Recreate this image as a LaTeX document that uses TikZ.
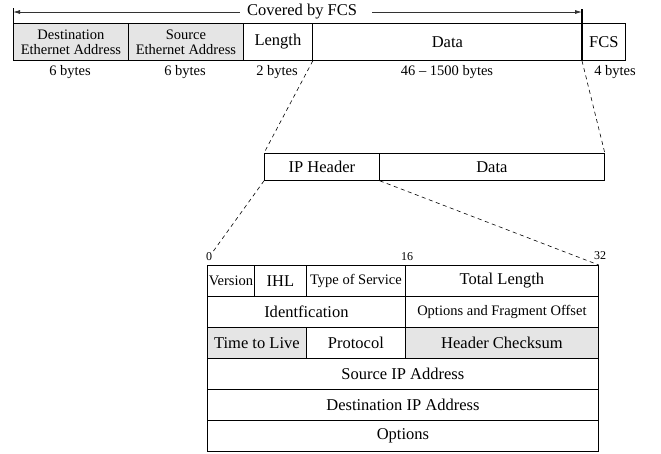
\documentclass[tikz,border=0pt]{standalone}
\usepackage{fontspec}
\setmainfont{Liberation Serif}
\usetikzlibrary{arrows.meta}

\tikzset{
  field/.style={draw, anchor=north west, inner sep=0pt, line width=0.8pt},
  frame/.style={field, minimum height=37pt},
  ipbox/.style={field, minimum height=27pt},
  hdrrow/.style={field, minimum height=31pt},
  shade/.style={fill=gray!20},
  bigtext/.style={font=\fontsize{16.5}{18}\selectfont},
  smalltext/.style={font=\fontsize{14.5}{15}\selectfont, align=center},
  bittext/.style={font=\fontsize{12}{13}\selectfont, inner sep=0pt},
  zoomline/.style={dashed, dash pattern=on 4pt off 3.5pt, line width=0.6pt}
}

\begin{document}
\begin{tikzpicture}[x=1pt, y=-1pt]
    \useasboundingbox (0,0) rectangle (661,453);

    \node [frame, shade, smalltext, minimum width=115pt] (dest) at (13,23) {Destination\\Ethernet Address};
    \node [frame, shade, smalltext, minimum width=115pt] (src) at (128,23) {Source\\Ethernet Address};
    \node [frame, bigtext, minimum width=69pt] (len) at (243,23) {Length};
    \node [frame, bigtext, minimum width=270pt] (data) at (312,23) {Data};
    \node [frame, bigtext, minimum width=43pt] (fcs) at (582,23) {FCS};

    \node [smalltext] (bdest) at (70,72) {6 bytes};
    \node [smalltext] (bsrc) at (185,72) {6 bytes};
    \node [smalltext] (blen) at (277,72) {2 bytes};
    \node [smalltext] (bdata) at (447,72) {46 -- 1500 bytes};
    \node [smalltext] (bfcs) at (615,72) {4 bytes};

    \node [bigtext, inner sep=7pt] (cover) at (302,12) {Covered by FCS};
    \coordinate (coverl) at (13,12);
    \coordinate (coverr) at (582,12);
    \draw [-{Latex[length=7pt,width=4pt]}, line width=0.8pt, black!80] (cover.west) -- (coverl);
    \draw [-{Latex[length=7pt,width=4pt]}, line width=0.8pt, black!80] ([xshift=8pt]cover.east) -- (coverr);
    \draw [line width=0.8pt] (dest.north west) -- ++(0,-15);
    \draw [line width=1.2pt] (fcs.south west) -- ++(0,-52);

    \node [ipbox, bigtext, minimum width=115pt] (iphdr) at (264,153) {IP Header};
    \node [ipbox, bigtext, minimum width=225pt] (ipdata) at (379,153) {Data};

    \draw [zoomline] (len.south east) -- (iphdr.north west);
    \draw [zoomline] (fcs.south west) -- (ipdata.north east);

    \node [bittext] (bit0) at (209,257) {0};
    \node [bittext] (bit16) at (407,257) {16};
    \node [bittext] (bit32) at (600,256) {32};

    \node [hdrrow, smalltext, minimum width=47pt] (version) at (207,265) {Version};
    \node [hdrrow, bigtext, minimum width=52pt] (ihl) at (254,265) {IHL};
    \node [hdrrow, smalltext, minimum width=99pt] (tos) at (306,265) {Type of Service};
    \node [hdrrow, bigtext, minimum width=193pt] (total) at (405,265) {Total Length};

    \node [hdrrow, bigtext, minimum width=198pt] (ident) at (207,296) {Identfication};
    \node [hdrrow, smalltext, minimum width=193pt] (frag) at (405,296) {Options and Fragment Offset};

    \node [hdrrow, shade, bigtext, minimum width=99pt] (ttl) at (207,327) {Time to Live};
    \node [hdrrow, bigtext, minimum width=99pt] (proto) at (306,327) {Protocol};
    \node [hdrrow, shade, bigtext, minimum width=193pt] (cksum) at (405,327) {Header Checksum};

    \node [hdrrow, bigtext, minimum width=391pt] (srcip) at (207,358) {Source IP Address};
    \node [hdrrow, bigtext, minimum width=391pt] (dstip) at (207,389) {Destination IP Address};
    \node [hdrrow, bigtext, minimum width=391pt] (opts) at (207,420) {Options};

    \draw [zoomline] (iphdr.south west) -- (bit0.north east);
    \draw [zoomline] (iphdr.south east) -- (total.north east);
  \end{tikzpicture}
\end{document}
